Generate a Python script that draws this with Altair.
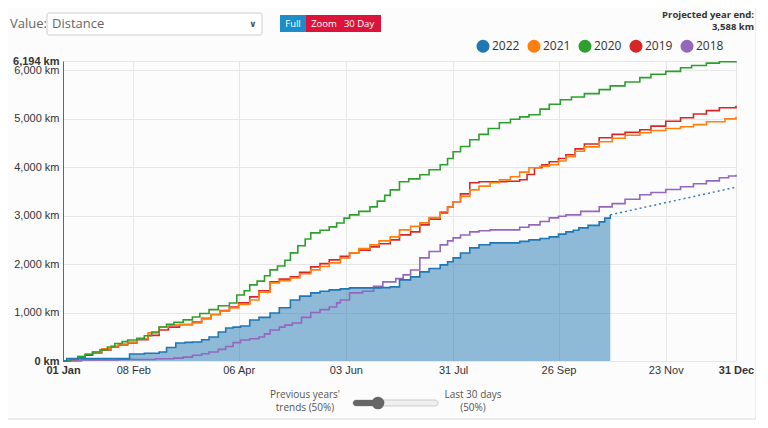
import altair as alt
import pandas as pd

# ---------------- data ----------------
years = ["2022", "2021", "2020", "2019", "2018"]
colors = ["#1f77b4", "#ff7f0e", "#2ca02c", "#d62728", "#9467bd"]

d2022 = [0, 2, 36, 44, 52, 56, 61, 66, 70, 75, 79, 84, 88, 92, 96, 101, 106, 112, 117, 123, 128, 134, 139, 144, 150, 155, 166, 172, 177, 182, 188, 193, 198, 204, 208, 211, 215, 220, 225, 231, 242, 247, 252, 258, 263, 268, 272, 276, 279, 284, 290, 293, 296]
k2022 = [0, 50, 145, 160, 186, 280, 372, 385, 393, 440, 496, 600, 682, 700, 723, 847, 900, 992, 1100, 1261, 1340, 1406, 1440, 1468, 1490, 1509, 1509, 1515, 1530, 1674, 1736, 1840, 1910, 1984, 2050, 2129, 2230, 2336, 2400, 2439, 2439, 2470, 2501, 2530, 2563, 2620, 2666, 2700, 2749, 2800, 2873, 2950, 3018]

d2021 = [0, 4, 8, 12, 16, 21, 26, 30, 35, 40, 46, 52, 57, 63, 70, 75, 80, 85, 90, 95, 101, 106, 112, 117, 123, 128, 134, 139, 144, 150, 155, 160, 166, 171, 177, 182, 188, 193, 198, 204, 208, 211, 215, 220, 225, 231, 236, 242, 247, 252, 258, 263, 268, 272, 277, 282, 290, 297, 304, 312, 318, 326, 334, 341, 348, 358, 364]
k2021 = [0, 40, 90, 140, 186, 250, 310, 350, 393, 460, 580, 703, 740, 760, 786, 870, 960, 1030, 1095, 1170, 1261, 1420, 1612, 1660, 1716, 1800, 1881, 1950, 2026, 2130, 2232, 2320, 2398, 2480, 2563, 2708, 2780, 2852, 2960, 3080, 3180, 3287, 3400, 3534, 3610, 3680, 3740, 3803, 3900, 3990, 4020, 4051, 4130, 4217, 4330, 4420, 4527, 4600, 4660, 4713, 4760, 4800, 4837, 4880, 4940, 5000, 5044]

d2020 = [0, 4, 8, 12, 16, 20, 24, 28, 32, 35, 40, 44, 48, 52, 56, 60, 65, 70, 74, 79, 84, 90, 94, 98, 101, 105, 109, 112, 116, 120, 123, 127, 131, 134, 139, 144, 148, 152, 155, 160, 166, 170, 174, 177, 182, 187, 193, 198, 204, 208, 211, 215, 220, 225, 230, 236, 242, 247, 252, 258, 263, 269, 275, 282, 290, 296, 304, 312, 318, 326, 334, 340, 348, 355, 364]
k2020 = [0, 40, 90, 140, 186, 230, 290, 360, 400, 434, 470, 520, 600, 703, 760, 800, 850, 910, 980, 1060, 1140, 1199, 1364, 1450, 1571, 1650, 1760, 1881, 1960, 2080, 2232, 2380, 2520, 2646, 2700, 2770, 2850, 2950, 3018, 3090, 3183, 3300, 3420, 3534, 3700, 3760, 3845, 3950, 4051, 4180, 4320, 4430, 4568, 4680, 4800, 4920, 4990, 5040, 5085, 5200, 5300, 5395, 5450, 5520, 5602, 5680, 5760, 5850, 5920, 5980, 6056, 6100, 6150, 6180, 6194]

d2019 = [0, 4, 8, 12, 16, 21, 26, 30, 35, 40, 46, 52, 57, 63, 70, 75, 80, 85, 90, 95, 101, 106, 112, 117, 123, 128, 134, 139, 144, 150, 155, 160, 166, 171, 177, 182, 188, 193, 198, 204, 208, 211, 215, 220, 225, 240, 247, 251, 255, 259, 263, 268, 272, 277, 282, 290, 297, 304, 312, 318, 326, 334, 341, 348, 355, 364]
k2019 = [0, 30, 70, 120, 165, 230, 290, 330, 372, 440, 530, 641, 700, 750, 806, 880, 960, 1040, 1116, 1200, 1323, 1450, 1633, 1690, 1736, 1830, 1943, 2010, 2088, 2160, 2232, 2290, 2356, 2420, 2501, 2604, 2666, 2811, 2930, 3059, 3180, 3287, 3450, 3680, 3700, 3710, 3741, 3850, 3990, 4050, 4113, 4180, 4258, 4380, 4480, 4609, 4680, 4720, 4775, 4850, 4950, 5023, 5100, 5170, 5230, 5271]

d2018 = [0, 10, 30, 50, 60, 65, 70, 75, 79, 84, 88, 92, 96, 101, 106, 109, 112, 117, 120, 124, 129, 134, 139, 144, 148, 150, 155, 162, 168, 173, 180, 184, 188, 193, 198, 204, 208, 211, 215, 220, 225, 231, 247, 252, 258, 263, 268, 272, 280, 290, 297, 304, 312, 318, 326, 334, 341, 348, 355, 360, 364]
k2018 = [0, 20, 30, 45, 60, 80, 120, 150, 186, 240, 300, 380, 434, 460, 496, 560, 641, 700, 740, 786, 900, 1000, 1060, 1116, 1200, 1261, 1406, 1440, 1540, 1633, 1700, 1778, 1880, 2129, 2260, 2398, 2480, 2542, 2600, 2666, 2690, 2708, 2760, 2811, 2880, 2956, 2990, 3018, 3090, 3183, 3250, 3340, 3431, 3480, 3540, 3597, 3660, 3720, 3783, 3820, 3845]

proj_days = [296, 364]
proj_km = [3018, 3588]

x_ticks = [0, 38, 95, 153, 211, 268, 326, 364]
x_labels = ["01 Jan", "08 Feb", "06 Apr", "03 Jun", "31 Jul", "26 Sep", "23 Nov", "31 Dec"]
y_ticks = [0, 1000, 2000, 3000, 4000, 5000, 6000, 6194]
y_max = 6194

# ---------------- frames ----------------
series = {"2022": (d2022, k2022), "2021": (d2021, k2021), "2020": (d2020, k2020),
          "2019": (d2019, k2019), "2018": (d2018, k2018)}
frames = {yr: pd.DataFrame({"day": dd, "km": kk}) for yr, (dd, kk) in series.items()}
dfproj = pd.DataFrame({"day": proj_days, "km": proj_km})
dfleg = pd.DataFrame({"year": years})

AX_FONT = "Liberation Sans, Arial, sans-serif"
UI_FONT = "Open Sans, DejaVu Sans, sans-serif"

xlab_expr = " : ".join(f"datum.value == {v} ? '{l}'" for v, l in zip(x_ticks, x_labels)) + " : ''"

x_enc = alt.X("day:Q", scale=alt.Scale(domain=[0, 364], nice=False, zero=False),
              axis=alt.Axis(values=x_ticks, labelExpr=xlab_expr, title=None, domain=False,
                            ticks=False, labelPadding=3, labelFontSize=11, labelFont=AX_FONT,
                            labelColor="#333", gridColor="#e6e6e6",
                            labelFontWeight={"condition": {"test": "datum.value == 0 || datum.value == 364", "value": "bold"}, "value": "normal"},
                            labelFlush=False, labelOverlap=False))
y_enc = alt.Y("km:Q", scale=alt.Scale(domain=[0, y_max], nice=False),
              axis=alt.Axis(values=y_ticks, labelExpr="format(datum.value, ',') + ' km'", title=None,
                            domainColor="#666", ticks=False, labelPadding=4, labelFontSize=11,
                            labelFont=AX_FONT, labelColor="#333", gridColor="#e6e6e6",
                            labelFontWeight={"condition": {"test": "datum.value == 0 || datum.value == 6194", "value": "bold"}, "value": "normal"},
                            labelOverlap=False, labelFlush=False))

color_scale = alt.Scale(domain=years, range=colors)

area = alt.Chart(frames["2022"]).mark_area(interpolate="step-after", color="#1f77b4", opacity=0.5).encode(x=x_enc, y=y_enc)

line_layers = []
for yr, col in zip(["2018", "2019", "2021", "2020", "2022"], ["#9467bd", "#d62728", "#ff7f0e", "#2ca02c", "#1f77b4"]):
    line_layers.append(alt.Chart(frames[yr]).mark_line(interpolate="step-after", strokeWidth=1.6, color=col)
                       .encode(x=x_enc, y=y_enc))

proj = alt.Chart(dfproj).mark_line(strokeDash=[2, 3], strokeWidth=1.5, color="#3b7fb0").encode(x=x_enc, y=y_enc)

legend_layer = alt.Chart(dfleg).mark_circle(opacity=0).encode(
    x=alt.value(0), y=alt.value(0),
    color=alt.Color("year:N", scale=color_scale, sort=years,
                    legend=alt.Legend(title=None, orient="none", legendX=413, legendY=-22,
                                      direction="horizontal", symbolType="circle", symbolSize=170,
                                      symbolOpacity=1, symbolStrokeWidth=0, labelFont=UI_FONT,
                                      labelFontSize=12, labelColor="#333", labelOffset=2,
                                      columnPadding=7, padding=0)))


def txt(s, x, y, size=10, color="#555", align="center", weight="normal", font=UI_FONT):
    return alt.Chart(pd.DataFrame({"a": [0]})).mark_text(
        text=s, fontSize=size, color=color, align=align, baseline="middle",
        fontWeight=weight, font=font).encode(x=alt.value(x), y=alt.value(y))


def box(x1, x2, y1, y2, fill, stroke=None, r=0):
    kw = dict(fill=fill, cornerRadius=r)
    if stroke:
        kw["stroke"] = stroke
        kw["strokeWidth"] = 1
    return alt.Chart(pd.DataFrame({"a": [0]})).mark_rect(**kw).encode(
        x=alt.value(x1), x2=alt.value(x2), y=alt.value(y1), y2=alt.value(y2))


deco = [
    box(-62, 693, -60, 358, "transparent", stroke="#dddddd"),
    txt("Value:", -53, -37, size=13, color="#666", align="left"),
    box(-16, 199, -48, -26, "white", stroke="#cccccc", r=2),
    txt("Distance", -11, -37, size=13, color="#666", align="left"),
    txt("∨", 190, -37, size=9, color="#555", weight="bold"),
    box(217, 243, -46, -29, "#1c8dc9"),
    box(243, 318, -46, -29, "#dc143c"),
    txt("Full", 230, -37, size=9.5, color="white"),
    txt("Zoom", 261, -37, size=9.5, color="white"),
    txt("30 Day", 296, -37, size=9.5, color="white"),
    txt("Projected year end:", 691, -46, size=9.5, color="#333", align="right", weight="bold"),
    txt("3,588 km", 691, -34, size=9.5, color="#333", align="right", weight="bold"),
    txt("Previous years'", 242, 334, size=10, color="#555"),
    txt("trends (50%)", 242, 347, size=10, color="#555"),
    txt("Last 30 days", 410, 334, size=10, color="#555"),
    txt("(50%)", 410, 347, size=10, color="#555"),
    box(290, 375, 339, 345, "#eeeeee", stroke="#cccccc", r=3),
    box(290, 315, 339, 345, "#666666", r=3),
    alt.Chart(pd.DataFrame({"a": [0]})).mark_circle(size=160, color="#666666", opacity=1).encode(
        x=alt.value(315), y=alt.value(342)),
]

chart = alt.layer(area, *line_layers, proj, legend_layer, *deco).properties(
    width=673, height=300,
    autosize=alt.AutoSizeParams(type="none"),
    padding={"left": 55, "top": 53, "right": 20, "bottom": 59},
    background="#fcfcfc",
).configure_view(stroke=None)

chart.save("out.html", embed_options={"renderer": "svg", "actions": False})
